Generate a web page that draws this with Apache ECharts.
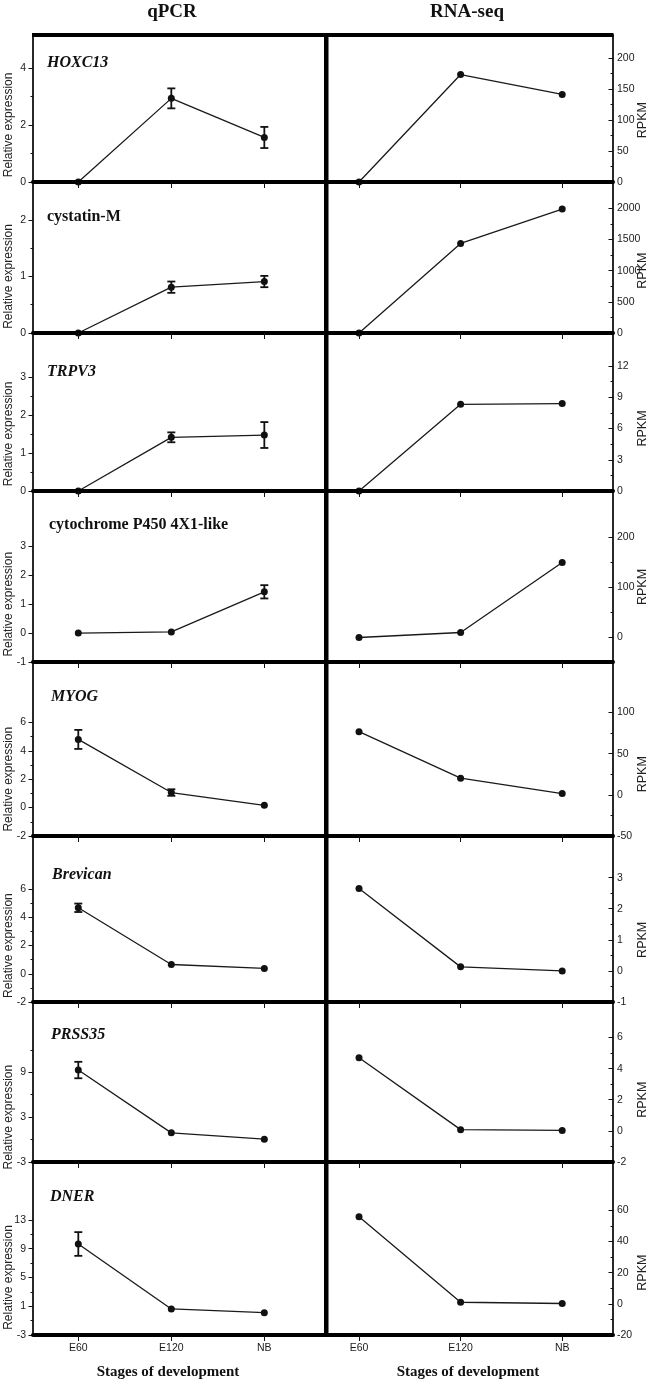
<!DOCTYPE html>
<html>
<head>
<meta charset="utf-8">
<script src="https://cdn.jsdelivr.net/npm/echarts@6/dist/echarts.min.js"></script>
<style>
html,body{margin:0;padding:0;background:#fff;}
#main{width:652px;height:1384px;}
</style>
</head>
<body>
<div id="main"></div>
<script>
// ---------------- data ----------------
const categories = ['E60', 'E120', 'NB'];
const genes = ['HOXC13', 'cystatin-M', 'TRPV3', 'cytochrome P450 4X1-like', 'MYOG', 'Brevican', 'PRSS35', 'DNER'];
const geneItalic = [true, false, true, false, true, true, true, true];

// qPCR relative expression (mean) and error (±)
const qpcrMean = [
  [0, 2.93, 1.56],
  [0, 0.81, 0.91],
  [0, 1.41, 1.47],
  [0, 0.04, 1.43],
  [4.8, 1.06, 0.16],
  [4.68, 0.66, 0.38],
  [9.3, 0.9, 0.05],
  [9.66, 0.62, 0.11]
];
const qpcrErr = [
  [0, 0.35, 0.37],
  [0, 0.10, 0.10],
  [0, 0.13, 0.34],
  [0, 0, 0.23],
  [0.67, 0.23, 0],
  [0.30, 0, 0],
  [1.1, 0, 0],
  [1.65, 0, 0]
];
// RNA-seq RPKM
const rpkmValues = [
  [0, 173.6, 141.5],
  [0, 1437, 1987],
  [0, 8.32, 8.39],
  [-1, 9, 149],
  [76.8, 20.3, 1.6],
  [2.65, 0.13, 0],
  [4.7, 0.08, 0.03],
  [55.8, 1.0, 0.2]
];

// axis ranges [min, max]
const qpcrRange = [[0, 5.15], [0, 2.67], [0, 4.15], [-1, 4.92], [-2, 10.25], [-2, 9.77], [-3, 18.4], [-3, 21.06]];
const rpkmRange = [[0, 237.5], [0, 2422], [0, 15.17], [-50, 292], [-50, 161.4], [-1, 4.34], [-2, 8.28], [-20, 91]];

// tick labels
const qpcrTicks = [[0, 2, 4], [0, 1, 2], [0, 1, 2, 3], [-1, 0, 1, 2, 3], [-2, 0, 2, 4, 6], [-2, 0, 2, 4, 6], [-3, 3, 9], [-3, 1, 5, 9, 13]];
const qpcrMinorTicks = [[1, 3], [0.5, 1.5], [0.5, 1.5, 2.5], [], [-1, 1, 3, 5], [-1, 1, 3, 5], [0, 6, 12], [-1, 3, 7, 11]];
const rpkmTicks = [[0, 50, 100, 150, 200], [0, 500, 1000, 1500, 2000], [0, 3, 6, 9, 12], [0, 100, 200], [-50, 0, 50, 100], [-1, 0, 1, 2, 3], [-2, 0, 2, 4, 6], [-20, 0, 20, 40, 60]];
const rpkmMinorTicks = [[25, 75, 125, 175], [250, 750, 1250, 1750], [1.5, 4.5, 7.5, 10.5], [50, 150], [-25, 25, 75], [-0.5, 0.5, 1.5, 2.5], [-1, 1, 3, 5], [-10, 10, 30, 50]];

const colTitles = ['qPCR', 'RNA-seq'];
const yNames = ['Relative expression', 'RPKM'];
const xTitle = 'Stages of development';

// ---------------- layout ----------------
const rowEdges = [35, 182, 333, 491, 662, 836, 1002, 1162, 1335];
const cols = [
  { left: 33, width: 293, xMin: -0.487, xMax: 2.663, pos: 'left', inside: false, labelMargin: 7, nameX: 9, titleX: 172 },
  { left: 326, width: 287, xMin: -0.325, xMax: 2.5, pos: 'right', inside: true, labelMargin: 4, nameX: 643, titleX: 467 }
];
const geneLabelPos = [[47, 63], [47, 217], [47, 372], [49, 525], [51, 697], [52, 875], [51, 1035], [50, 1197]];

const SANS = '"Liberation Sans", Arial, sans-serif';
const SERIF = '"Liberation Serif", "Times New Roman", serif';

const grids = [], xAxes = [], yAxes = [], series = [];
const mainYIndex = []; // [row][col]

for (let r = 0; r < 8; r++) {
  mainYIndex.push([]);
  for (let c = 0; c < 2; c++) {
    const col = cols[c];
    const range = c === 0 ? qpcrRange[r] : rpkmRange[r];
    const ticks = c === 0 ? qpcrTicks[r] : rpkmTicks[r];
    const minor = c === 0 ? qpcrMinorTicks[r] : rpkmMinorTicks[r];
    const top = rowEdges[r], height = rowEdges[r + 1] - rowEdges[r];

    // main grid
    const gi = grids.length;
    grids.push({ left: col.left, top: top, width: col.width, height: height, containLabel: false });
    xAxes.push({
      gridIndex: gi, type: 'value', min: col.xMin, max: col.xMax, z: 3,
      axisLine: { show: true, onZero: false, lineStyle: { color: '#000', width: 4 } },
      axisTick: { show: true, customValues: [0, 1, 2], length: 6, lineStyle: { color: '#111', width: 1 } },
      axisLabel: {
        show: r === 7, customValues: [0, 1, 2], margin: 8,
        formatter: v => categories[Math.round(v)],
        fontFamily: SANS, fontSize: 10.5, color: '#1a1a1a'
      },
      splitLine: { show: false }
    });
    yAxes.push({
      gridIndex: gi, type: 'value', position: col.pos, min: range[0], max: range[1],
      axisLine: { show: true, onZero: false, lineStyle: { color: '#111', width: 1.8 } },
      axisTick: { show: true, inside: col.inside, customValues: ticks, length: 4.5, lineStyle: { color: '#111', width: 1 } },
      axisLabel: {
        show: true, customValues: ticks, margin: col.labelMargin,
        formatter: v => String(v),
        fontFamily: SANS, fontSize: 10.5, color: '#1a1a1a'
      },
      splitLine: { show: false }
    });
    mainYIndex[r].push(gi);

    // minor tick grid (same geometry)
    const mi = grids.length;
    grids.push({ left: col.left, top: top, width: col.width, height: height, containLabel: false });
    xAxes.push({ gridIndex: mi, type: 'value', min: col.xMin, max: col.xMax, show: false });
    yAxes.push({
      gridIndex: mi, type: 'value', position: col.pos, min: range[0], max: range[1],
      axisLine: { show: false, onZero: false },
      axisTick: { show: minor.length > 0, inside: col.inside, customValues: minor, length: 2.5, lineStyle: { color: '#111', width: 1 } },
      axisLabel: { show: false },
      splitLine: { show: false }
    });

    const vals = c === 0 ? qpcrMean[r] : rpkmValues[r];
    series.push({
      type: 'line', xAxisIndex: gi, yAxisIndex: gi, z: 2,
      data: vals.map((v, i) => [i, v]),
      symbol: 'circle', symbolSize: 7,
      itemStyle: { color: '#111' },
      lineStyle: { color: '#1a1a1a', width: 1.3 },
      animation: false, silent: true, clip: false
    });

    if (c === 0) {
      const errData = [];
      qpcrErr[r].forEach((e, i) => { if (e > 0) errData.push([i, qpcrMean[r][i] - e, qpcrMean[r][i] + e]); });
      if (errData.length) {
        series.push({
          type: 'custom', xAxisIndex: gi, yAxisIndex: gi, z: 5, animation: false, silent: true, clip: false,
          data: errData,
          encode: { x: 0, y: [1, 2] },
          renderItem: (params, api) => {
            const x = api.value(0), lo = api.value(1), hi = api.value(2);
            const pH = api.coord([x, hi]), pL = api.coord([x, lo]);
            const w = 4;
            const st = { stroke: '#111', lineWidth: 1.8 };
            return {
              type: 'group', children: [
                { type: 'line', shape: { x1: pH[0], y1: pH[1], x2: pL[0], y2: pL[1] }, style: st },
                { type: 'line', shape: { x1: pH[0] - w, y1: pH[1], x2: pH[0] + w, y2: pH[1] }, style: st },
                { type: 'line', shape: { x1: pL[0] - w, y1: pL[1], x2: pL[0] + w, y2: pL[1] }, style: st }
              ]
            };
          }
        });
      }
    }
  }
}

const chart = echarts.init(document.getElementById('main'), null, { renderer: 'canvas' });
chart.setOption({
  backgroundColor: '#fff',
  animation: false,
  grid: grids,
  xAxis: xAxes,
  yAxis: yAxes,
  series: series
});

// ---------------- decorations & texts ----------------
const els = [];
// frame lines
els.push({ type: 'rect', shape: { x: 32, y: 33, width: 581.5, height: 4 }, style: { fill: '#000' }, z: 10 });
els.push({ type: 'rect', shape: { x: 324, y: 33, width: 4.5, height: 1304 }, style: { fill: '#000' }, z: 10 });

function txt(text, x, y, font, opts) {
  return Object.assign({
    type: 'text', x: x, y: y, z: 20,
    style: Object.assign({ text: text, font: font, fill: '#111', align: 'center', verticalAlign: 'middle', textAlign: 'center', textVerticalAlign: 'middle' }, (opts && opts.style) || {})
  }, (opts && opts.el) || {});
}

// column titles
cols.forEach((col, c) => {
  els.push(txt(colTitles[c], col.titleX, 12, 'bold 19px ' + SERIF));
  els.push(txt(xTitle, c === 0 ? 168 : 468, 1372, 'bold 15px ' + SERIF));
});

// gene labels
genes.forEach((g, r) => {
  const font = (geneItalic[r] ? 'italic ' : '') + 'bold 16px ' + SERIF;
  els.push(txt(g, geneLabelPos[r][0], geneLabelPos[r][1], font, { style: { align: 'left', textAlign: 'left', fill: '#111' } }));
});

// axis names centred on the labelled tick range
for (let r = 0; r < 8; r++) {
  for (let c = 0; c < 2; c++) {
    const ticks = c === 0 ? qpcrTicks[r] : rpkmTicks[r];
    const idx = mainYIndex[r][c];
    const p1 = chart.convertToPixel({ yAxisIndex: idx }, ticks[0]);
    const p2 = chart.convertToPixel({ yAxisIndex: idx }, ticks[ticks.length - 1]);
    const mid = (p1 + p2) / 2;
    els.push(txt(yNames[c], cols[c].nameX, mid, (c === 0 ? '12px ' : '12.5px ') + SANS,
      { el: { rotation: Math.PI / 2 }, style: { fill: '#222' } }));
  }
}

chart.setOption({ graphic: { elements: els } });
</script>
</body>
</html>
